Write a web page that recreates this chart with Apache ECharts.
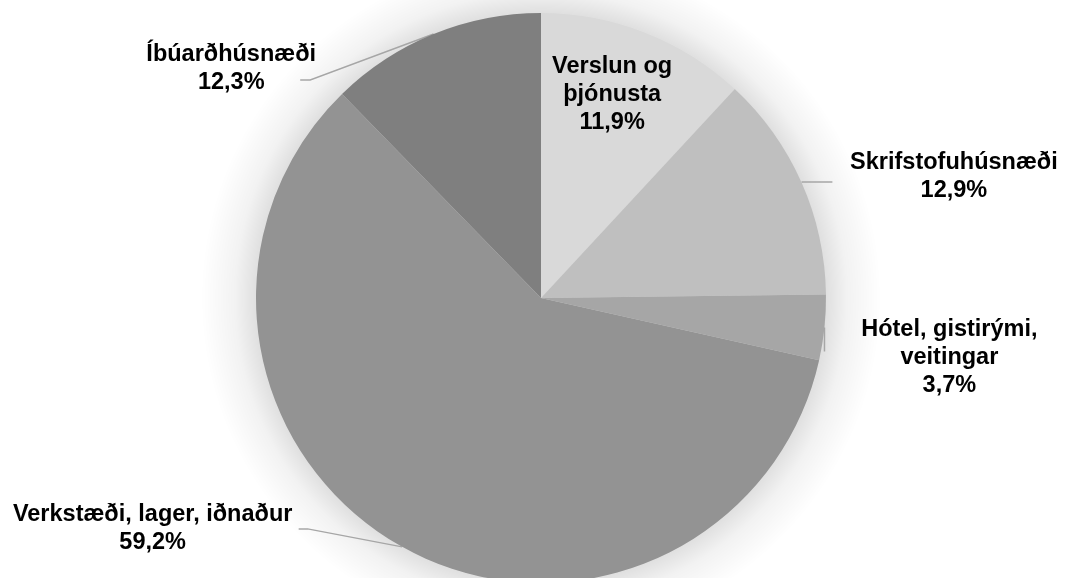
<!DOCTYPE html>
<html>
<head>
<meta charset="utf-8">
<script src="https://cdn.jsdelivr.net/npm/echarts@6/dist/echarts.min.js"></script>
<style>
  html, body { margin: 0; padding: 0; background: #fff; }
  #chart { width: 1065px; height: 578px; }
</style>
</head>
<body>
<div id="chart"></div>
<script>
// gögn
const categories = ['Verslun og\nþjónusta', 'Skrifstofuhúsnæði', 'Hótel, gistirými,\nveitingar', 'Verkstæði, lager, iðnaður', 'Íbúarðhúsnæði']
const values = [11.9, 12.9, 3.7, 59.2, 12.3]
const colors = ['#d9d9d9', '#bfbfbf', '#a6a6a6', '#939393', '#7f7f7f']

// label settings per slice (width used to centre the lines)
const labelWidths = [130, 233, 190, 290, 180]
const lineLengths = [[0, 0], [1, 30], [20, 5], [1, 103], [1, 133]]

const pct = v => v.toFixed(1).replace('.', ',') + '%'

const chart = echarts.init(document.getElementById('chart'))

const pieData = categories.map((name, i) => {
  const item = {
    name: name,
    value: values[i],
    itemStyle: { color: colors[i] },
    label: {
      rich: {
        t: {
          width: labelWidths[i],
          align: 'center',
          fontSize: 23.5,
          fontWeight: 'bold',
          lineHeight: 28,
          color: '#000',
          fontFamily: 'Liberation Sans'
        }
      }
    },
    labelLine: { length: lineLengths[i][0], length2: lineLengths[i][1] }
  }
  if (i === 0) {
    item.label.position = 'inside'
    item.labelLine.show = false
  }
  return item
})

// move labels a bit so they sit like in the original, line follows
const labelLayout = p => {
  const pts = p.labelLinePoints
  switch (p.dataIndex) {
    case 0:
      return { dx: 18, dy: -68 }
    case 1:
      return { dy: -5 }
    case 2:
      return { dy: 28, labelLinePoints: [pts[0], [pts[0][0], pts[0][1] + 24], [pts[0][0], pts[0][1] + 24]] }
    case 3:
      return { dx: 4, dy: -19, labelLinePoints: [pts[0], [pts[2][0] + 9, pts[0][1] - 18], [pts[2][0], pts[0][1] - 18]] }
    case 4:
      return { dx: 26, dy: 35, labelLinePoints: [pts[0], [pts[2][0] + 10, pts[0][1] + 46], [pts[2][0], pts[0][1] + 46]] }
  }
}

// soft halo round the pie (canvas shadow does not show here)
const halo = new echarts.graphic.RadialGradient(0.5, 0.5, 0.5, [
  { offset: 0.84, color: 'rgba(0,0,0,0.12)' },
  { offset: 0.9, color: 'rgba(0,0,0,0.05)' },
  { offset: 1, color: 'rgba(0,0,0,0)' }
])

const option = {
  animation: false,
  series: [
    {
      type: 'pie',
      silent: true,
      z: 1,
      center: [541, 298],
      radius: 340,
      label: { show: false },
      labelLine: { show: false },
      emphasis: { disabled: true },
      data: [{ value: 100, name: 'skuggi', itemStyle: { color: halo } }]
    },
    {
      type: 'pie',
      z: 2,
      center: [541, 298],
      radius: 285,
      startAngle: 90,
      clockwise: true,
      avoidLabelOverlap: false,
      label: {
        show: true,
        formatter: p => (p.name + '\n' + pct(p.value)).split('\n').map(l => '{t|' + l + '}').join('\n')
      },
      labelLine: {
        show: true,
        lineStyle: { color: '#a6a6a6', width: 1.5 }
      },
      labelLayout: labelLayout,
      data: pieData
    }
  ]
}
chart.setOption(option)
</script>
</body>
</html>
